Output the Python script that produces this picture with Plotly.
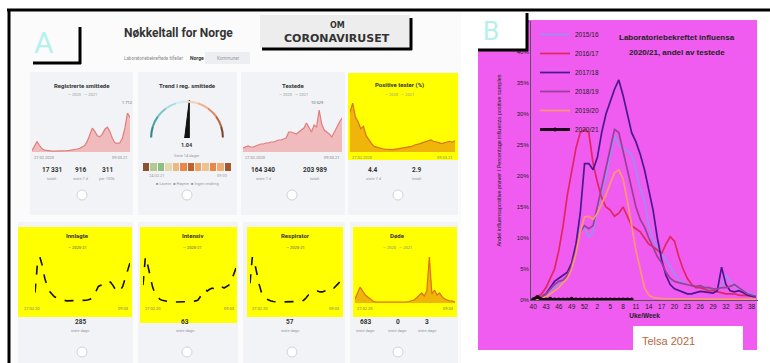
import math
import plotly.graph_objects as go

W, H = 770, 363

# ---- panel B: influenza positivity by season ----
weeks = [str(w) for w in range(40, 54)] + [str(w) for w in range(1, 40)]
week_ticks = weeks[::3]

s1516 = [0.2, 0.3, 0.5, 0.8, 1.5, 2.0, 2.5, 3.0, 3.5, 5.0, 7.5, 11.5, 11.5, 10.2, 11.0, 14.5, 17.0, 20.0,
         23.5, 26.5, 25.0, 24.5, 24.0, 23.5, 21.0, 18.0, 16.0, 12.0, 9.7, 8.5, 7.5, 6.5, 5.3, 4.2, 3.2, 2.8,
         2.5, 2.4, 2.2, 2.0, 2.0, 1.8, 1.6, 1.8, 2.2, 4.0, 3.0, 2.2, 1.8, 1.5, 1.2, 1.0, 0.8]
s1617 = [0.3, 0.5, 1.0, 2.0, 3.5, 5.0, 8.0, 12.0, 17.0, 21.0, 24.5, 27.0, 27.5, 27.0, 22.0, 19.0, 16.5, 15.0,
         14.5, 13.5, 14.0, 15.0, 13.5, 12.0, 11.5, 11.0, 10.0, 9.0, 8.6, 8.0, 7.5, 9.0, 10.2, 9.5, 7.0, 5.0,
         3.5, 2.5, 2.0, 2.0, 1.8, 1.5, 1.5, 1.3, 1.2, 1.0, 1.0, 1.0, 0.8, 0.8, 0.7, 0.6, 0.5]
s1718 = [0.0, 0.2, 0.5, 1.0, 2.0, 3.0, 3.5, 4.0, 4.5, 6.0, 9.0, 14.0, 22.0, 22.0, 21.0, 23.0, 27.0, 30.0,
         32.0, 34.0, 35.5, 33.0, 30.0, 27.0, 25.5, 23.5, 21.0, 18.0, 14.5, 10.0, 6.5, 4.0, 2.5, 1.8, 1.5, 1.2,
         1.0, 1.0, 1.2, 1.4, 1.3, 1.2, 1.1, 1.5, 5.3, 2.5, 1.5, 1.3, 1.5, 1.2, 0.8, 0.6, 0.5]
s1819 = [0.2, 0.3, 0.5, 1.0, 1.8, 2.5, 3.0, 3.2, 4.0, 5.5, 8.0, 11.0, 12.0, 11.5, 12.0, 15.0, 18.5, 21.5,
         24.5, 27.5, 27.0, 24.0, 21.5, 18.0, 15.0, 13.0, 11.8, 10.0, 8.5, 7.0, 6.0, 4.5, 3.5, 3.0, 2.8, 2.6,
         2.5, 2.3, 2.2, 2.3, 2.0, 2.0, 1.8, 1.8, 2.0, 2.0, 2.2, 2.5, 2.0, 1.5, 1.0, 0.8, 0.6]
s1920 = [0.0, 0.1, 0.3, 0.5, 1.0, 1.5, 2.0, 2.8, 3.5, 5.0, 7.5, 11.0, 13.4, 13.5, 13.0, 14.0, 15.5, 17.0,
         18.8, 20.5, 21.0, 19.5, 16.0, 11.8, 8.0, 5.0, 2.0, 0.8, 0.4, 0.3, 0.2, 0.2, 0.2, 0.2, 0.1, 0.1,
         0.1, 0.1, 0.1, 0.1, 0.1, 0.1, 0.1, 0.1, 0.1, 0.1, 0.1, 0.1, 0.1, 0.1, 0.1, 0.1, 0.1]
s2021 = [0.1, 0.5, 0.1, 0.1, 0.2, 0.1, 0.1, 0.1, 0.1, 0.2, 0.1, 0.1, 0.1, 0.1, 0.1, 0.1, 0.1, 0.1,
         0.1, 0.1, 0.1, 0.1, 0.1, 0.1]

seasons = ["2015/16", "2016/17", "2017/18", "2018/19", "2019/20"]
season_values = [s1516, s1617, s1718, s1819, s1920]
season_colors = ["#9a8ff2", "#e0285e", "#4a1890", "#9b3f98", "#ff9870"]

# ---- panel A: dashboard sparklines ----
smittede = [30, 110, 190, 120, 60, 35, 25, 20, 15, 15, 15, 18, 20, 22, 25, 30, 35, 45, 55, 70,
            90, 120, 200, 330, 440, 380, 300, 280, 330, 420, 460, 380, 250, 170, 160, 170, 260, 450, 720, 640]
testede = [4, 5, 6, 5, 5, 6, 7, 8, 8, 9, 9, 10, 10, 11, 12, 12, 13, 14, 20, 20,
           19, 18, 20, 22, 24, 29, 24, 20, 27, 25, 42, 28, 22, 20, 18, 15, 20, 26, 30, 34]
positive = [8.5, 10.5, 7.5, 6.5, 5, 5.5, 3.5, 2.5, 1.8, 1.2, 1, 0.8, 0.7, 0.6, 0.5, 0.5, 0.5, 0.6, 0.6, 0.7,
            0.8, 0.9, 1, 1.2, 1.5, 1.6, 1.8, 2, 2.2, 2.4, 2.6, 2.3, 2.2, 2.0, 1.8, 2, 2.2, 2.3, 2.1, 2.4]
innlagte = [84, 280, 325, 266, 182, 126, 91, 70, 56, 49, 42, 35, 32, 28, 28, 28, 28, 28, 28, 28,
            28, 32, 35, 42, 56, 98, 126, 133, 140, 147, 161, 154, 133, 105, 91, 98, 126, 182, 238, 285]
intensiv = [34, 82, 68, 48, 31, 20, 14, 10, 8, 7, 6, 5, 5, 5, 5, 5, 5, 5, 5, 5,
            5, 6, 7, 8, 14, 22, 26, 24, 27, 29, 27, 26, 29, 31, 29, 31, 34, 41, 51, 63]
respirator = [50, 110, 96, 69, 46, 27, 18, 14, 11, 9, 8, 7, 7, 7, 7, 7, 7, 7, 7, 7,
              7, 8, 9, 11, 16, 23, 27, 27, 30, 32, 30, 30, 32, 34, 32, 34, 39, 44, 50, 57]
dode = [4, 10, 16, 12, 8, 6, 4, 2, 1, 1, 0.5, 0.5, 0.5, 0.5, 0.5, 0.5, 0.5, 0.5, 0.5, 1,
        1, 1.5, 2, 3, 5, 8, 10, 7, 12, 46, 9, 13, 8, 10, 6, 4, 3, 2, 2, 1]
r_value = 1.04
trend_cells = [0.95, 0.2, 0.1, 0.35, 0.5, 0.7, 0.85, 0.6, 0.45, 0.7, 0.55, 0.9]


def fx(x):
    return x / W


def fy(y):
    return 1 - y / H


shapes = []
annotations = []


def rect(x0, y0, x1, y1, fill, layer="below"):
    shapes.append(dict(type="rect", xref="paper", yref="paper", x0=fx(x0), x1=fx(x1), y0=fy(y1), y1=fy(y0),
                       fillcolor=fill, layer=layer, line=dict(width=0)))


def seg(x0, y0, x1, y1, width=3, color="black"):
    shapes.append(dict(type="line", xref="paper", yref="paper", x0=fx(x0), x1=fx(x1), y0=fy(y0), y1=fy(y1),
                       line=dict(color=color, width=width), layer="above"))


def circ(cx, cy, r):
    shapes.append(dict(type="circle", xref="paper", yref="paper", x0=fx(cx - r), x1=fx(cx + r),
                       y0=fy(cy + r), y1=fy(cy - r), fillcolor="white",
                       line=dict(color="#cfd3d8", width=1), layer="above"))


def txt(x, y, s, size=6, color="#333", bold=False, xanchor="center", family="Roboto"):
    annotations.append(dict(xref="paper", yref="paper", x=fx(x), y=fy(y), text=f"<b>{s}</b>" if bold else s,
                            showarrow=False, xanchor=xanchor, yanchor="middle",
                            font=dict(size=size, color=color, family=family)))


fig = go.Figure()
axes = {}


def spark(n, values, x0, x1, y_base, y_peak, color, fill=None, dash=None, width=1.2):
    fig.add_trace(go.Scatter(x=list(range(len(values))), y=values, xaxis=f"x{n}", yaxis=f"y{n}", mode="lines",
                             line=dict(color=color, width=width, dash=dash),
                             fill="tozeroy" if fill else "none", fillcolor=fill,
                             showlegend=False, hoverinfo="skip"))
    axes[f"xaxis{n}"] = dict(domain=[fx(x0), fx(x1)], range=[0, len(values) - 1], visible=False, anchor=f"y{n}")
    axes[f"yaxis{n}"] = dict(domain=[fy(y_base), fy(y_peak)], range=[0, max(values)], visible=False,
                             anchor=f"x{n}")


# backgrounds
rect(10, 12, 461, 363, "#fbfbfc")
for x0, x1 in [(30, 133), (138, 237), (241, 345), (348, 458)]:
    rect(x0, 72, x1, 215, "#f1f3f6")
for x0, x1 in [(18, 133), (138, 238), (243, 345), (350, 458)]:
    rect(x0, 222, x1, 363, "#f1f3f6")
rect(348, 73, 458, 160, "#ffff00")
rect(18, 227, 132, 317, "#ffff00")
rect(140, 227, 237, 323, "#ffff00")
rect(247, 227, 343, 317, "#ffff00")
rect(353, 227, 457, 317, "#ffff00")
rect(205, 52, 250, 64, "#eceef1")
rect(260, 15, 410, 48, "#ededed")
rect(478, 20, 757, 350, "#ef5cef")
rect(465, 12, 526, 49, "white", layer="above")
rect(633, 326, 743, 352, "white", layer="above")

# frame and box edges
seg(7, 10, 770, 10)
seg(9, 10, 9, 363)
seg(80, 27, 80, 64)
seg(33, 63, 81, 63)
seg(411, 18, 411, 50)
seg(262, 49, 412, 49)
seg(527, 13, 527, 51)
seg(478, 50, 528, 50)

for cx in [82, 187, 292, 398]:
    circ(cx, 195, 5)
    circ(cx, 352, 5)

# panel A texts
txt(44, 43, "A", size=30, color="#b6f0ec")
txt(122, 33, "Nøkkeltall for Norge", size=12, bold=True, xanchor="left")
txt(122, 58, "Laboratoriebekreftede tilfeller", size=4.5, color="#888", xanchor="left")
txt(188, 58, "Norge", size=5, bold=True, xanchor="left")
txt(228, 58, "Kommuner", size=4.5, color="#999")
txt(337, 25, "OM", size=8, bold=True, family="DejaVu Sans")
txt(337, 39, "CORONAVIRUSET", size=11, bold=True, family="DejaVu Sans")

for x, t in [(82, "Registrerte smittede"), (187, "Trend i reg. smittede"), (293, "Testede"),
             (400, "Positive tester (%)")]:
    txt(x, 85, t, size=6, bold=True)
for x in [82, 293, 400]:
    txt(x, 95, "— 2020   — 2021", size=4, color="#999")
for x0, x1 in [(32, 130), (243, 342), (350, 455)]:
    txt(x0, 158, "27.02.2020", size=4, color="#888", xanchor="left")
    txt(x1, 158, "09.03.21", size=4, color="#888", xanchor="right")
txt(127, 103, "1 712", size=4, color="#666")
txt(317, 103, "10 529", size=4, color="#666")

for x, t in [(52, "17 331"), (80, "916"), (107, "311"), (263, "164 340"), (315, "203 989"),
             (373, "4.4"), (417, "2.9")]:
    txt(x, 170, t, size=6.5, bold=True)
for x, t in [(52, "totalt"), (80, "siste 7 d"), (107, "per 100k"), (263, "siste 7 d"), (315, "totalt"),
             (373, "siste 7 d"), (417, "totalt")]:
    txt(x, 178, t, size=4, color="#999")

txt(187, 145, f"{r_value:.2f}", size=5.5, bold=True)
txt(187, 155, "Siste 14 dager", size=4, color="#999")
txt(147, 175, "24.02.21", size=4, color="#999", xanchor="left")
txt(229, 175, "09.03", size=4, color="#999", xanchor="right")
txt(187, 183, "■ Lavere  ■ Høyere  ■ Ingen endring", size=4, color="#999")

for x, t in [(77, "Innlagte"), (192, "Intensiv"), (295, "Respirator"), (398, "Døde")]:
    txt(x, 235, t, size=6, bold=True)
for x in [77, 192, 295]:
    txt(x, 247, "— 2020-21", size=4, color="#555")
txt(398, 247, "— 2020   — 2021", size=4, color="#888")
for x0, x1 in [(22, 130), (143, 236), (250, 341), (355, 455)]:
    txt(x0, 308, "27.02.20", size=4, color="#777", xanchor="left")
    txt(x1, 308, "09.03", size=4, color="#777", xanchor="right")
for x, t in [(80, innlagte[-1]), (185, intensiv[-1]), (290, respirator[-1]), (365, 683), (398, 0), (427, 3)]:
    txt(x, 322, str(t), size=6.5, bold=True)
for x in [80, 185, 290, 365, 398, 427]:
    txt(x, 330, "siste døgn", size=4, color="#999")

# sparklines
pink_fill, pink_line = "rgba(236,140,140,0.55)", "#e27d7d"
orange_fill, orange_line = "rgba(225,120,20,0.55)", "#d9730d"
spark(2, smittede, 32, 130, 152, 113, pink_line, pink_fill)
spark(3, testede, 243, 342, 152, 110, pink_line, pink_fill)
spark(4, positive, 350, 455, 152, 103, orange_line, orange_fill)
spark(5, innlagte, 35, 130, 305, 257, "#111", dash="dash", width=1.6)
spark(6, intensiv, 143, 236, 305, 257, "#111", dash="dash", width=1.6)
spark(7, respirator, 250, 341, 305, 257, "#111", dash="dash", width=1.6)
spark(8, dode, 355, 455, 303, 257, orange_line, orange_fill)

# gauge
gauge_steps = [(0.0, 0.2, "#2e8b8b"), (0.2, 0.4, "#4aa3a8"), (0.4, 0.6, "#7cc4cc"), (0.6, 0.8, "#a9dce3"),
               (0.8, 1.0, "#cdeef2"), (1.0, 1.2, "#f6d2b8"), (1.2, 1.4, "#f0b08a"), (1.4, 1.6, "#e08a5e"),
               (1.6, 1.8, "#b8673f"), (1.8, 2.0, "#7a4a30")]
fig.add_trace(go.Indicator(
    mode="gauge", value=r_value,
    domain=dict(x=[fx(146), fx(228)], y=[fy(138), fy(96)]),
    gauge=dict(shape="angular", axis=dict(range=[0, 2], visible=False),
               bar=dict(thickness=0, color="rgba(0,0,0,0)"), bgcolor="rgba(0,0,0,0)", borderwidth=0,
               steps=[dict(range=[a, b], color=c, thickness=0.2) for a, b, c in gauge_steps])))

ang = math.pi * (1 - r_value / 2)
fig.add_trace(go.Scatter(x=[-0.06, math.cos(ang) * 0.95, 0.06, -0.06], y=[0, math.sin(ang) * 0.95, 0, 0],
                         xaxis="x9", yaxis="y9", mode="lines", fill="toself", fillcolor="#111",
                         line=dict(color="#111", width=1), showlegend=False, hoverinfo="skip"))
axes["xaxis9"] = dict(domain=[fx(148), fx(226)], range=[-1, 1], visible=False, anchor="y9")
axes["yaxis9"] = dict(domain=[fy(138), fy(98)], range=[0, 1], visible=False, anchor="x9")

fig.add_trace(go.Heatmap(z=[trend_cells], xaxis="x10", yaxis="y10", showscale=False, xgap=1, hoverinfo="skip",
                         colorscale=[[0, "#8fbf7f"], [0.3, "#e8d8b0"], [0.6, "#f0a060"], [0.8, "#e07030"],
                                     [1, "#8a5030"]]))
axes["xaxis10"] = dict(domain=[fx(143), fx(232)], visible=False, anchor="y10")
axes["yaxis10"] = dict(domain=[fy(171), fy(163)], visible=False, anchor="x10")

# main chart
for name, vals, col in zip(seasons, season_values, season_colors):
    fig.add_trace(go.Scatter(x=weeks, y=vals, name=name, mode="lines", line=dict(color=col, width=1.7)))
fig.add_trace(go.Scatter(x=weeks[:len(s2021)], y=s2021, name="2020/21", mode="lines+markers",
                         line=dict(color="#1a0a1a", width=3), marker=dict(size=4, color="#1a0a1a")))

txt(491, 31, "B", size=26, color="#b6f0ec")
txt(677, 37, "Laboratoriebekreftet influensa", size=8, bold=True, family="Liberation Sans", color="#222")
txt(677, 52, "2020/21, andel av testede", size=8, bold=True, family="Liberation Sans", color="#222")
txt(640, 341, "Telsa 2021", size=11, color="#b8653f", xanchor="left", family="Liberation Sans")

fig.update_layout(
    width=W, height=H, margin=dict(l=0, r=0, t=0, b=0), template="none",
    paper_bgcolor="white", plot_bgcolor="rgba(0,0,0,0)", hovermode=False,
    shapes=shapes, annotations=annotations,
    legend=dict(x=fx(535), y=fy(20), xanchor="left", yanchor="top", bgcolor="rgba(0,0,0,0)",
                font=dict(size=6.5, color="#222", family="Liberation Sans"), tracegroupgap=0),
    xaxis=dict(domain=[fx(531), fx(758)], type="category", categoryorder="array", categoryarray=weeks,
               tickmode="array", tickvals=week_ticks, range=[-0.5, 52.5], showline=True, linecolor="#555",
               ticks="", showgrid=False, zeroline=False, tickangle=0, showticklabels=True,
               tickfont=dict(size=6.5, color="#222", family="Liberation Sans"),
               title=dict(text="<b>Uke/Week</b>", font=dict(size=6.5, color="#222", family="Liberation Sans"),
                          standoff=4)),
    yaxis=dict(domain=[fy(300), fy(21)], range=[0, 45], tickmode="linear", tick0=0, dtick=5, ticksuffix="%",
               showline=True, showticklabels=True, linecolor="#555", ticks="", showgrid=False, zeroline=False,
               tickfont=dict(size=6, color="#222", family="Liberation Sans"),
               title=dict(text="Andel influensapositive prøver / Percentage influenza positive samples",
                          font=dict(size=5.5, color="#222", family="Liberation Sans"), standoff=14)),
    **axes,
)

fig.write_html("out.html", config={"displayModeBar": False},
               post_script="document.body.style.margin='0';")
